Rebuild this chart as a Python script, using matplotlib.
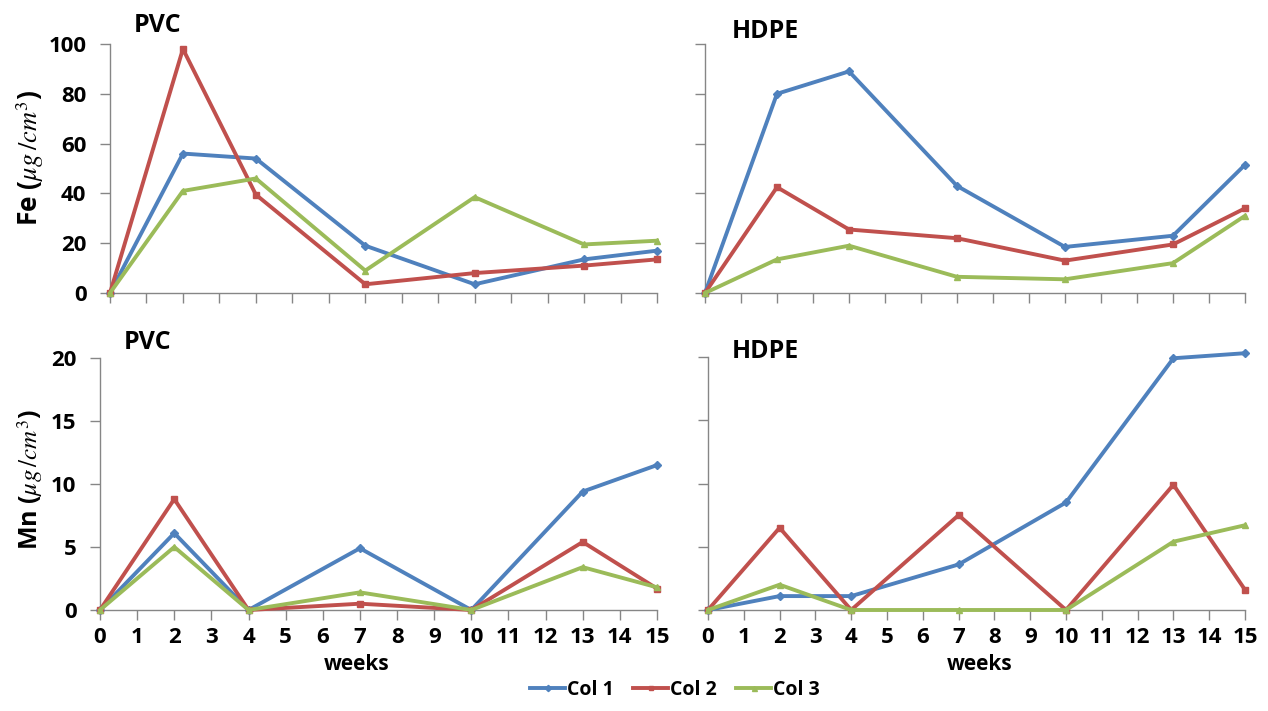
import matplotlib
matplotlib.use("Agg")
import matplotlib.pyplot as plt
import numpy as np

plt.rcParams['font.family'] = ['Open Sans', 'DejaVu Sans']
plt.rcParams['mathtext.fontset'] = 'stix'

weeks = [0, 2, 4, 7, 10, 13, 15]
series_names = ["Col 1", "Col 2", "Col 3"]

# Fe, PVC
fe_pvc_col1 = [0, 56, 54, 19, 3.5, 13.5, 17]
fe_pvc_col2 = [0, 98, 39.5, 3.5, 8, 11, 13.5]
fe_pvc_col3 = [0, 41, 46, 9, 38.5, 19.5, 21]

# Fe, HDPE
fe_hdpe_col1 = [0, 80, 89, 43, 18.5, 23, 51.5]
fe_hdpe_col2 = [0, 42.5, 25.5, 22, 13, 19.5, 34]
fe_hdpe_col3 = [0, 13.5, 19, 6.5, 5.5, 12, 31]

# Mn, PVC
mn_pvc_col1 = [0, 6.1, 0, 4.9, 0, 9.4, 11.5]
mn_pvc_col2 = [0, 8.8, 0, 0.5, 0, 5.4, 1.7]
mn_pvc_col3 = [0, 5.0, 0, 1.4, 0, 3.4, 1.8]

# Mn, HDPE
mn_hdpe_col1 = [0, 1.1, 1.1, 3.6, 8.5, 19.9, 20.3]
mn_hdpe_col2 = [0, 6.5, 0, 7.5, 0, 9.9, 1.6]
mn_hdpe_col3 = [0, 2.0, 0, 0, 0, 5.4, 6.7]

colors = ["#4F81BD", "#C0504D", "#9BBB59"]
markers = ["D", "s", "^"]
msizes = [4, 4, 4.5]

fig = plt.figure(figsize=(12.68, 7.11), dpi=100)
W, H = 1268, 711


def make_ax(left, right, top, bottom):
    return fig.add_axes([left / W, 1 - bottom / H, (right - left) / W, (bottom - top) / H])


ax_tl = make_ax(110, 657, 44, 293)
ax_tr = make_ax(705, 1245, 44, 293)
ax_bl = make_ax(100, 657, 358, 610)
ax_br = make_ax(708, 1245, 357, 610)

panels = [
    (ax_tl, [fe_pvc_col1, fe_pvc_col2, fe_pvc_col3], 100, 20),
    (ax_tr, [fe_hdpe_col1, fe_hdpe_col2, fe_hdpe_col3], 100, 20),
    (ax_bl, [mn_pvc_col1, mn_pvc_col2, mn_pvc_col3], 20, 5),
    (ax_br, [mn_hdpe_col1, mn_hdpe_col2, mn_hdpe_col3], 20, 5),
]

lines = []
for i, (ax, data, ymax, ystep) in enumerate(panels):
    for k, vals in enumerate(data):
        ln, = ax.plot(weeks, vals, color=colors[k], lw=2.8, marker=markers[k],
                      ms=msizes[k], label=series_names[k], clip_on=False, zorder=3)
        if i == 0:
            lines.append(ln)
    ax.set_xlim(0, 15)
    ax.set_ylim(0, ymax)
    ax.set_xticks(range(16))
    ax.set_yticks(np.arange(0, ymax + 1, ystep))
    for s in ["top", "right"]:
        ax.spines[s].set_visible(False)
    for s in ["left", "bottom"]:
        ax.spines[s].set_color("#868686")
        ax.spines[s].set_linewidth(1.0)
    ax.tick_params(direction="out", length=7, width=1.0, color="#868686",
                   labelsize=16, pad=5)
    ax.tick_params(axis="y", pad=10)
    for lab in ax.get_xticklabels() + ax.get_yticklabels():
        lab.set_fontweight("bold")
    if i < 2:
        ax.tick_params(axis="x", labelbottom=False)
    if i % 2 == 1:
        ax.tick_params(axis="y", labelleft=False)

# panel titles
tkw = dict(fontsize=18, fontweight="bold", va="center")
fig.text(134 / W, 1 - 26 / H, "PVC", **tkw)
fig.text(732 / W, 1 - 31 / H, "HDPE", **tkw)
fig.text(124 / W, 1 - 343 / H, "PVC", **tkw)
fig.text(732 / W, 1 - 351 / H, "HDPE", **tkw)

# y labels
fig.text(30 / W, 1 - 158 / H, r"Fe ($\mu g\,/cm^3$)", rotation=90, fontsize=19,
         fontweight="bold", ha="center", va="center")
fig.text(30 / W, 1 - 480 / H, r"Mn ($\mu g\,/cm^3$)", rotation=90, fontsize=18,
         fontweight="bold", ha="center", va="center")

# x labels
fig.text(357 / W, 1 - 664 / H, "weeks", fontsize=15, fontweight="bold", ha="center", va="center")
fig.text(980 / W, 1 - 664 / H, "weeks", fontsize=15, fontweight="bold", ha="center", va="center")

fig.legend(handles=lines, loc="center", bbox_to_anchor=(675 / W, 1 - 690 / H), ncol=3,
           frameon=False, prop={"weight": "bold", "size": 14}, handlelength=1.8,
           columnspacing=1.0, handletextpad=0.1, markerscale=0.8)

fig.savefig("out.png", dpi=100)
